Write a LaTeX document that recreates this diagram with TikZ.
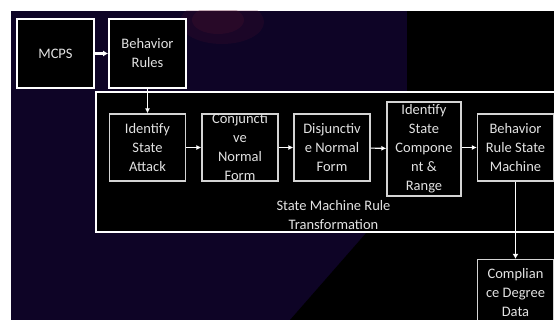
\documentclass[tikz,border=0pt]{standalone}
\usepackage{fontspec}
\setmainfont{Carlito}
\usetikzlibrary{arrows.meta}
\definecolor{bgpurple}{HTML}{0E0426}
\definecolor{blobred}{HTML}{5A1430}
\definecolor{boxline}{HTML}{D4D4D4}
\definecolor{txt}{HTML}{E2E2E2}
\tikzset{
  every node/.style={font=\fontsize{14.5}{19}\selectfont, text=txt, align=center, inner sep=0pt},
  mainbox/.style={draw=white, line width=1.8pt, fill=black, minimum width=77pt, minimum height=69pt},
  stepbox/.style={draw=boxline, line width=1.3pt, fill=black, minimum width=76pt, minimum height=67pt},
  groupbox/.style={draw=white, line width=1.8pt, fill=black, minimum width=475pt, minimum height=140pt},
  flow/.style={draw=white, line width=1.1pt, -{Latex[length=5pt,width=5pt]}},
  thickflow/.style={draw=white, line width=2.2pt, -{Latex[length=5pt,width=6pt]}},
  downflow/.style={draw=white, line width=1.5pt, -{Latex[length=5pt,width=6pt]}},
}
\begin{document}
\begin{tikzpicture}[x=1pt, y=-1pt]
  \useasboundingbox (0,0) rectangle (554,320);
  \clip (0,0) rectangle (554,320);
  % page and dark backdrop
  \fill[white] (0,0) rectangle (554,320);
  \begin{scope}
    \clip (11,11) rectangle (554,320);
    \fill[bgpurple] (11,11) rectangle (554,320);
    % faint reddish glow near the top
    \fill[blobred, opacity=0.18] (222,22) ellipse (42 and 22);
    \fill[blobred, opacity=0.22] (218,20) ellipse (26 and 14);
  \end{scope}
  \fill[black] (407,11) rectangle (554,92);
  \fill[black] (367,232) -- (554,232) -- (554,320) -- (290,320) -- cycle;

  % top row
  \node[mainbox] (mcps) at (55.5,53.5) {MCPS};
  \node[mainbox] (rules) at (147.5,53.5) {Behavior\\Rules};

  % transformation group
  \node[groupbox] (group) at (333.5,162) {};
  \node (group-t) at (333.5,215) {State Machine Rule\\Transformation};

  % steps inside the group
  \node[stepbox] (attack) at (147.5,147.5) {};
  \node (attack-t) at (attack) {Identify\\State\\Attack};
  \node[stepbox] (cnf) at (240,147.5) {};
  \node (cnf-t) at (cnf) {Conjuncti\\ve\\Normal\\Form};
  \node[stepbox] (dnf) at (332,147.5) {};
  \node (dnf-t) at (dnf) {Disjunctiv\\e Normal\\Form};
  \node[stepbox, minimum width=74pt, minimum height=94pt] (comp) at (424,149) {};
  \node (comp-t) at (comp) {Identify\\State\\Compone\\nt \&\\Range};
  \node[stepbox] (bsm) at (515.5,147.5) {};
  \node (bsm-t) at (bsm) {Behavior\\Rule State\\Machine};

  % output
  \node[stepbox] (comply) at (515.5,293) {};
  \node (comply-t) at (comply) {Complian\\ce Degree\\Data};

  % connectors
  \draw[thickflow] (mcps) -- (rules);
  \draw[flow] (rules) -- (attack);
  \draw[flow] (attack) -- (cnf);
  \draw[flow] (cnf) -- (dnf);
  \draw[flow] (dnf) -- (comp);
  \draw[flow] (comp.east |- bsm) -- (bsm);
  \draw[downflow] (bsm) -- (comply);
\end{tikzpicture}
\end{document}
